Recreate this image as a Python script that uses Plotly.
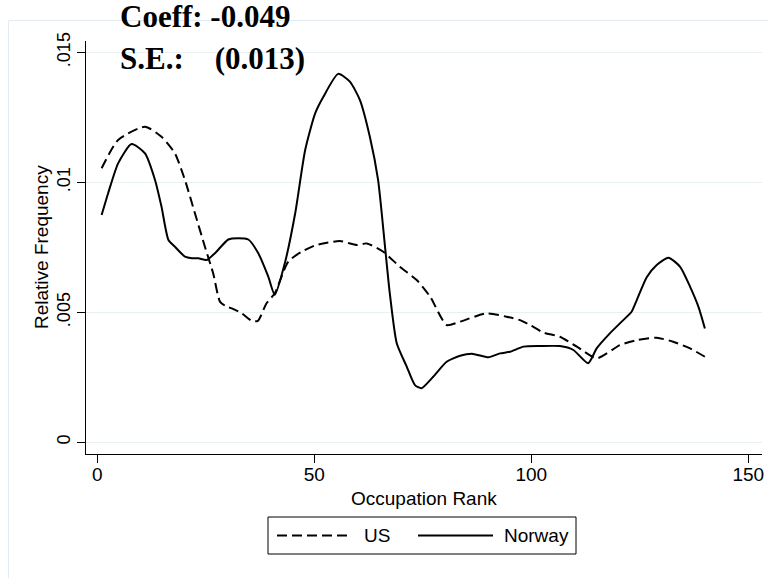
import plotly.graph_objects as go

# ---- data ----
us_rank = [1, 4.8, 11, 14.8, 17.9, 20.2, 22.5, 24.8, 26.7, 28.3, 29.8, 31, 33.3, 35.6, 37,
           39, 40.9, 44, 47.1, 50.5, 55.9, 59.8, 62.1, 65.9, 69.7, 73.6, 76.7, 80.5, 83.6,
           89.7, 94.3, 97.4, 99.7, 102.8, 106.6, 110.5, 115.1, 120.4, 124.3, 128.9, 132.7,
           136.6, 140]
us_freq = [0.01054, 0.01163, 0.01214, 0.01175, 0.01111, 0.01009, 0.00881, 0.00752, 0.0065,
           0.0054, 0.00522, 0.00515, 0.00496, 0.00467, 0.00467, 0.00535, 0.00573, 0.00695,
           0.00733, 0.00759, 0.00774, 0.00759, 0.00765, 0.00733, 0.00675, 0.00624, 0.0056,
           0.00451, 0.00464, 0.00496, 0.00483, 0.0047, 0.00451, 0.00422, 0.00406, 0.00368,
           0.00323, 0.00374, 0.00393, 0.00402, 0.00387, 0.00361, 0.00329]

no_rank = [1, 2.5, 4.8, 7.9, 11, 13.3, 14.8, 16.4, 17.9, 20.2, 21.8, 23.3, 25.2, 27.1, 30.2,
           32.5, 34.8, 37.1, 39.4, 40.9, 43.2, 45.6, 47.9, 50.2, 52.1, 55.5, 58.2, 60.5,
           62.8, 64.7, 66.3, 67.4, 69, 71.3, 73.2, 74.7, 77.4, 80.5, 83.6, 86.6, 90.1, 92.8,
           95.1, 98.2, 102, 106.6, 109.7, 113.1, 115.1, 118.1, 121.2, 123.1, 124.3, 126.6,
           128.9, 131.6, 134.3, 136.6, 138.5, 140]
no_freq = [0.00874, 0.00958, 0.01073, 0.01147, 0.01111, 0.01009, 0.00906, 0.00778, 0.00752,
           0.00714, 0.00708, 0.00708, 0.00701, 0.00727, 0.0078, 0.00785, 0.0078, 0.00727,
           0.00637, 0.00567, 0.00688, 0.00881, 0.01124, 0.01265, 0.01329, 0.01417, 0.01387,
           0.01317, 0.01175, 0.01009, 0.00752, 0.00573, 0.00381, 0.00291, 0.0022, 0.00208,
           0.00252, 0.0031, 0.00333, 0.0034, 0.00327, 0.00342, 0.00348, 0.00368, 0.0037,
           0.0037, 0.00355, 0.00304, 0.00362, 0.00419, 0.0047, 0.00502, 0.00547, 0.00635,
           0.00682, 0.0071, 0.00675, 0.00598, 0.00522, 0.00438]

x_ticks = [0, 50, 100, 150]
y_ticks = [0, 0.005, 0.01, 0.015]
y_tick_labels = ["0", ".005", ".01", ".015"]

coeff_text = "<b>Coeff: -0.049</b>"
se_text = "<b>S.E.:\u00a0\u00a0\u00a0 (0.013)</b>"

# ---- layout geometry (pixels) ----
W, H = 768, 578
L, R, T, B = 86, 6, 41, 124
PW, PH = W - L - R, H - T - B


def px(x):
    return (x - L) / PW


def py(y):
    return (H - B - y) / PH


SANS = "Liberation Sans, Arial, Helvetica, sans-serif"
SERIF = "Liberation Serif, Times New Roman, serif"

fig = go.Figure()
fig.add_trace(go.Scatter(x=us_rank, y=us_freq, mode="lines", name="US",
                         line=dict(color="black", width=2, dash="10px,5px",
                                   shape="spline", smoothing=0.6),
                         showlegend=False))
fig.add_trace(go.Scatter(x=no_rank, y=no_freq, mode="lines", name="Norway",
                         line=dict(color="black", width=2, shape="spline", smoothing=0.6),
                         showlegend=False))

shapes = [
    # outer graph-region frame
    dict(type="rect", xref="paper", yref="paper", x0=px(8.5), x1=px(820), y0=py(640),
         y1=py(20.5), line=dict(color="#e3ecf0", width=1), layer="below"),
    # legend box
    dict(type="rect", xref="paper", yref="paper", x0=px(268), x1=px(576), y0=py(554),
         y1=py(517), line=dict(color="black", width=1), fillcolor="white"),
    dict(type="line", xref="paper", yref="paper", x0=px(277), x1=px(352), y0=py(535.5),
         y1=py(535.5), line=dict(color="black", width=2, dash="10px,5px")),
    dict(type="line", xref="paper", yref="paper", x0=px(418), x1=px(493), y0=py(535.5),
         y1=py(535.5), line=dict(color="black", width=2)),
]

annotations = [
    dict(text=coeff_text, xref="paper", yref="paper", x=px(118), y=py(16.5),
         xanchor="left", yanchor="middle", showarrow=False,
         font=dict(family=SERIF, size=31, color="black")),
    dict(text=se_text, xref="paper", yref="paper", x=px(118), y=py(58.5),
         xanchor="left", yanchor="middle", showarrow=False,
         font=dict(family=SERIF, size=31, color="black")),
    dict(text="Occupation Rank", xref="paper", yref="paper", x=px(424), y=py(498),
         xanchor="center", yanchor="middle", showarrow=False,
         font=dict(family=SANS, size=19, color="black")),
    dict(text="Relative Frequency", xref="paper", yref="paper", x=px(41), y=py(247),
         xanchor="center", yanchor="middle", textangle=-90, showarrow=False,
         font=dict(family=SANS, size=19, color="black")),
    dict(text="US", xref="paper", yref="paper", x=px(362), y=py(535.5),
         xanchor="left", yanchor="middle", showarrow=False,
         font=dict(family=SANS, size=19, color="black")),
    dict(text="Norway", xref="paper", yref="paper", x=px(502), y=py(535.5),
         xanchor="left", yanchor="middle", showarrow=False,
         font=dict(family=SANS, size=19, color="black")),
]

fig.update_layout(
    width=W, height=H,
    margin=dict(l=L, r=R, t=T, b=B, pad=0),
    paper_bgcolor="white", plot_bgcolor="white",
    showlegend=False,
    shapes=shapes, annotations=annotations,
    xaxis=dict(range=[-2.6, 153.16], tickmode="array", tickvals=x_ticks,
               showgrid=False, zeroline=False, showline=True, linecolor="black",
               linewidth=1, ticks="outside", ticklen=8, tickcolor="black", tickwidth=1,
               ticklabelstandoff=-5, automargin=False,
               tickfont=dict(family=SANS, size=19, color="black")),
    yaxis=dict(range=[-0.00045, 0.015435], tickmode="array", tickvals=y_ticks,
               ticktext=y_tick_labels, tickangle=-90, automargin=False,
               showgrid=True, gridcolor="#e8f0f3", gridwidth=1, zeroline=False,
               showline=True, linecolor="black", linewidth=1, ticks="outside",
               ticklen=8, tickcolor="black", tickwidth=1,
               tickfont=dict(family=SANS, size=18, color="black")),
)

fig.write_html("out.html", config={"displayModeBar": False},
               post_script="document.body.style.margin='0';document.body.style.overflow='hidden';")
